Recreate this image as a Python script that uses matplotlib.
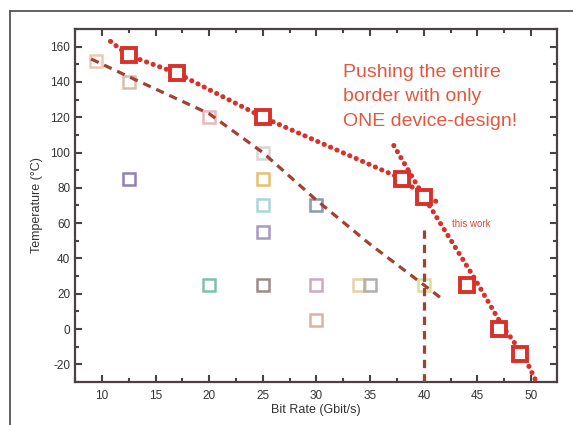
#!/usr/bin/env python3
"""Temperature vs bit rate: 'this work' border against other devices."""

import matplotlib

matplotlib.use("Agg")
import matplotlib.pyplot as plt
from matplotlib.lines import Line2D
from matplotlib.ticker import MultipleLocator

# this work (red squares)
work_rate = [12.5, 17, 25, 38, 40, 44, 47, 49]
work_temp = [155, 145, 120, 85, 75, 25, 0, -14]

# dotted guides through this work
upper_dot_rate = [10.8, 12.5, 17, 25, 38, 40, 41.3]
upper_dot_temp = [163, 155, 145, 120, 85, 75, 72]
lower_dot_rate = [37.2, 40, 44.6, 47.3, 49.3, 50.5]
lower_dot_temp = [104, 75, 30, 2, -15, -30]

# dashed border of previous work
prev_dash_rate = [9, 12.5, 20, 25, 30, 35, 40, 41.5]
prev_dash_temp = [153, 143, 122, 100, 73, 48, 25, 18]
vline_rate = 40
vline_temp = [-30, 57]

# other devices (faint squares)
other_rate = [9.5, 12.5, 20, 25, 12.5, 25, 25, 25, 30, 20, 25, 30, 30, 34, 35, 40]
other_temp = [152, 140, 120, 100, 85, 85, 70, 55, 70, 25, 25, 25, 5, 25, 25, 25]
other_colors = ["#f0c8b0", "#d8c0a8", "#e8b8c0", "#dcd4d4", "#9080b8", "#e8c070",
                "#a8d8d8", "#a898c8", "#8898b8", "#80c0a8", "#a08888", "#d0a8c0",
                "#e0b0a0", "#e8d0a8", "#b0b0b0", "#d8e0a0"]

RED = "#d9302a"
BROWN = "#a4402f"
AXC = "#4a4242"


def main() -> None:
    plt.rcParams["font.family"] = ["Liberation Sans", "DejaVu Sans"]
    plt.rcParams["axes.unicode_minus"] = False
    fig = plt.figure(figsize=(5.73, 4.25), dpi=100)
    ax = fig.add_axes([0.1309, 0.1012, 0.841, 0.8306])

    # slide frame
    fx = 10 / 573
    fy = 1 - 11 / 425
    fig.add_artist(Line2D([fx, fx], [0, fy], color="#555555", lw=1.3))
    fig.add_artist(Line2D([fx, 1], [fy, fy], color="#555555", lw=1.3))

    for r, t, c in zip(other_rate, other_temp, other_colors):
        ax.plot(r, t, "s", ms=9, mfc="none", mec=c, mew=1.8, zorder=2)

    ax.plot(prev_dash_rate, prev_dash_temp, color=BROWN, lw=2.3,
            dashes=(2.6, 1.9), zorder=3)
    ax.plot([vline_rate, vline_rate], vline_temp, color=BROWN, lw=2.3,
            dashes=(2.6, 1.9), zorder=3)

    for xs, ys in [(upper_dot_rate, upper_dot_temp), (lower_dot_rate, lower_dot_temp)]:
        ax.plot(xs, ys, color=RED, lw=3.6, linestyle=(0, (0.05, 1.35)),
                solid_capstyle="round", dash_capstyle="round", zorder=4)

    ax.plot(work_rate, work_temp, "s", ms=10.5, mfc="white", mec=RED,
            mew=2.8, zorder=5, clip_on=False)

    ax.text(32.5, 150, "Pushing the entire\nborder with only\nONE device-design!",
            color="#e2583f", fontsize=14, va="top", ha="left", linespacing=1.55)
    ax.text(42.6, 59.5, "this work", color="#d94a3a", fontsize=7, va="center")

    ax.set_xlim(7.5, 52.4)
    ax.set_ylim(-30, 170)
    ax.xaxis.set_minor_locator(MultipleLocator(2.5))
    ax.yaxis.set_minor_locator(MultipleLocator(10))
    ax.set_xticks(range(10, 51, 5))
    ax.set_yticks(range(-20, 161, 20))
    ax.tick_params(which="both", direction="in", top=True, right=True,
                   color=AXC, width=1.5, labelsize=8.5, labelcolor="#333333")
    ax.tick_params(which="major", length=5)
    ax.tick_params(which="minor", length=3)
    ax.tick_params(axis="x", pad=6)
    for s in ax.spines.values():
        s.set_color(AXC)
        s.set_linewidth(1.6)

    ax.set_xlabel("Bit Rate (Gbit/s)", fontsize=9, color="#333333", labelpad=1)
    ax.set_ylabel("Temperature (°C)", fontsize=9, color="#333333", labelpad=5)

    fig.savefig("out.png", dpi=100)
    plt.close(fig)


if __name__ == "__main__":
    main()
